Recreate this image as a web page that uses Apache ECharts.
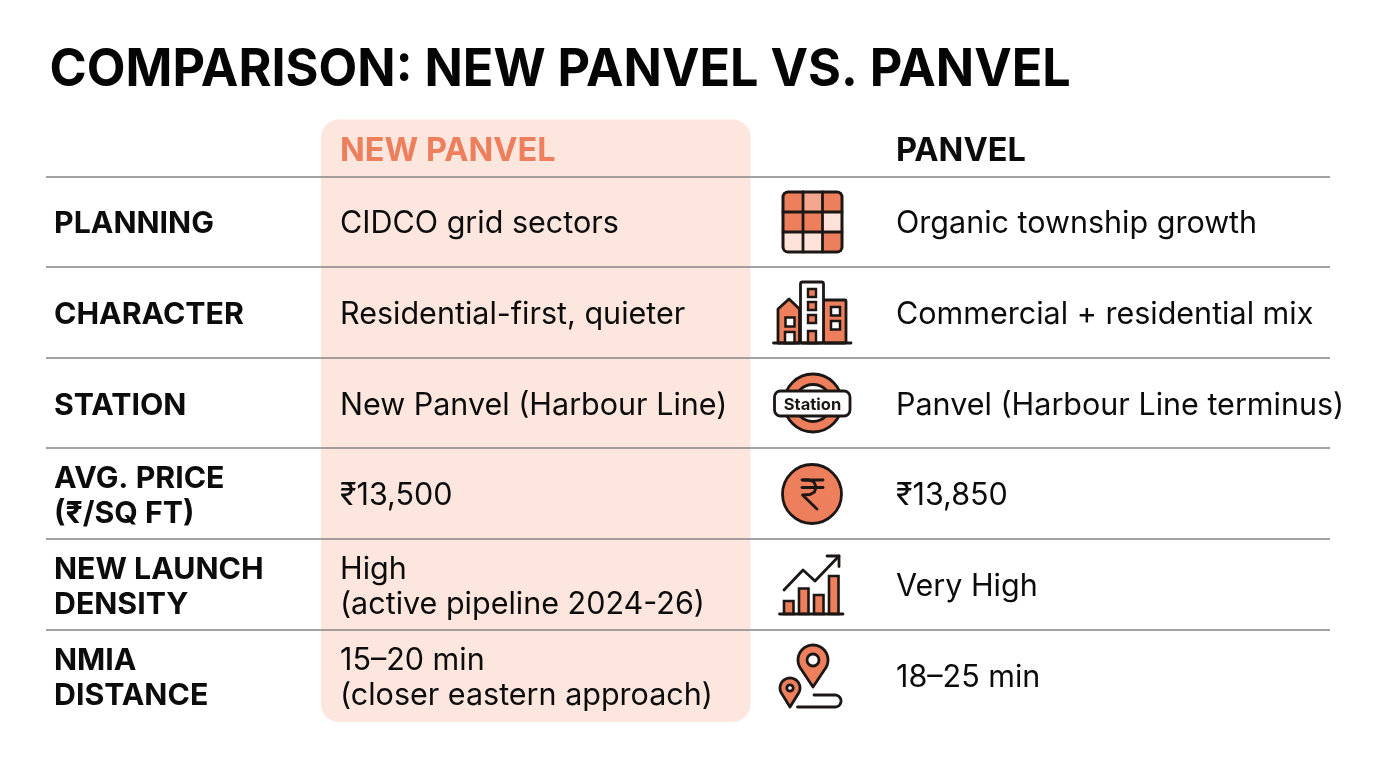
<!DOCTYPE html>
<html>
<head>
<meta charset="utf-8">
<style>html,body{margin:0;padding:0;background:#fff}#main{width:1376px;height:768px}</style>
<script src="https://cdn.jsdelivr.net/npm/echarts@6/dist/echarts.min.js"></script>
</head>
<body>
<div id="main"></div>
<script>
var chart_title = 'COMPARISON: NEW PANVEL VS. PANVEL';
var col_heads = ['NEW PANVEL', 'PANVEL'];
var row_names = ['PLANNING', 'CHARACTER', 'STATION', 'AVG. PRICE\n(₹/SQ FT)', 'NEW LAUNCH\nDENSITY', 'NMIA\nDISTANCE'];
var new_panvel = ['CIDCO grid sectors', 'Residential-first, quieter', 'New Panvel (Harbour Line)', '₹13,500', 'High\n(active pipeline 2024-26)', '15–20 min\n(closer eastern approach)'];
var panvel = ['Organic township growth', 'Commercial + residential mix', 'Panvel (Harbour Line terminus)', '₹13,850', 'Very High', '18–25 min'];
var row_mid = [224, 315, 406, 496, 587, 678];
var rule_y = [177, 267, 358, 448, 539, 630];

var INK = '#1c1715', ORANGE = '#ee7f5d', TINT = '#fde6de', PALE = '#fde3d9', FONT = 'Inter';
var els = [];

function txt(x, y, s, size, weight, color, sx) {
    els.push({type: 'text', x: x, y: y, scaleX: sx || 1, style: {
        text: s, fill: color || '#0c0c0c', font: weight + ' ' + size + 'px ' + FONT,
        textAlign: 'left', textVerticalAlign: 'middle', lineHeight: 35
    }});
}
function rect(x, y, w, h, fill, r, lw) {
    els.push({type: 'rect', shape: {x: x, y: y, width: w, height: h, r: r || 0},
        style: {fill: fill, stroke: lw ? INK : null, lineWidth: lw || 0}});
}
function poly(points, fill, lw) {
    els.push({type: fill ? 'polygon' : 'polyline', shape: {points: points},
        style: {fill: fill || null, stroke: INK, lineWidth: lw || 2.8, lineCap: 'round', lineJoin: 'round'}});
}
function circle(x, y, r, fill, lw) {
    els.push({type: 'circle', shape: {cx: x, cy: y, r: r},
        style: {fill: fill, stroke: lw ? INK : null, lineWidth: lw || 0}});
}
function arcPts(cx, cy, r, a0, a1) {
    var pts = [];
    for (var i = 0; i <= 40; i++) {
        var a = a0 + (a1 - a0) * i / 40;
        pts.push([cx + r * Math.cos(a), cy + r * Math.sin(a)]);
    }
    return pts;
}
// map pin outline, head circle plus tip
function pin(cx, cy, r, tipY, hole) {
    poly([[cx, tipY]].concat(arcPts(cx, cy, r, Math.PI * 0.80, Math.PI * 2.20)), ORANGE, 2.8);
    circle(cx, cy, hole, '#fff', 2.8);
}

// highlighted column
rect(321, 119.5, 429.5, 602.5, TINT, 18);

// table rules
rule_y.forEach(function (y) {
    els.push({type: 'line', shape: {x1: 46, y1: y, x2: 1330, y2: y}, style: {stroke: '#858585', lineWidth: 1.4}});
});

// title and headers
txt(49.5, 70, chart_title, 52, 700, '#050505', 0.968);
txt(340, 151, col_heads[0], 32.5, 700, ORANGE);
txt(896, 151, col_heads[1], 32.5, 700);

// rows
row_names.forEach(function (name, i) {
    txt(54, row_mid[i], name, 30.3, 700);
    txt(340, row_mid[i], new_panvel[i], 30.5, 400);
    txt(896, row_mid[i], panvel[i], 30.5, 400);
});

// grid icon
var cell_fills = [ORANGE, '#f4a78e', ORANGE, ORANGE, ORANGE, PALE, PALE, PALE, ORANGE];
rect(783, 192, 59, 60, '#fff', 5, 0);
cell_fills.forEach(function (c, i) {
    rect(783 + (i % 3) * 19.67, 192 + Math.floor(i / 3) * 20, 19.67, 20, c);
});
poly([[803, 192], [803, 252]]);
poly([[822.5, 192], [822.5, 252]]);
poly([[783, 212], [842, 212]]);
poly([[783, 232], [842, 232]]);
rect(783, 192, 59, 60, 'transparent', 5, 3);

// buildings icon
poly([[778, 343], [778, 309], [789, 299], [799.5, 309], [799.5, 343]], ORANGE);
rect(785.5, 317.5, 9, 9, '#fff', 0, 2.5);
rect(785, 332, 9.5, 11, '#fff', 0, 2.5);
rect(823, 300, 23, 43, ORANGE, 1, 2.8);
rect(831, 307, 9, 8.5, '#fff', 0, 2.5);
rect(831, 321, 9, 8.5, '#fff', 0, 2.5);
rect(800.5, 282, 23, 61, '#fff', 2, 2.8);
[289, 302, 315].forEach(function (y) { rect(808, y, 8, 8, ORANGE, 0, 2.4); });
rect(808, 331, 8, 12, ORANGE, 0, 2.4);
poly([[773.5, 343], [851, 343]]);

// station icon
circle(813, 403, 29, ORANGE, 2.8);
circle(813, 403, 18.5, '#fff', 2.8);
rect(774.5, 391, 75.5, 25, '#fff', 6, 2.8);
els.push({type: 'text', x: 812.5, y: 405, style: {text: 'Station', fill: INK, font: '700 16.5px ' + FONT, textAlign: 'center', textVerticalAlign: 'middle'}});

// rupee icon
circle(812, 494, 29.5, ORANGE, 2.8);
poly([[802, 480], [823, 480]]);
poly([[802, 487.5], [823, 487.5]]);
poly([[803, 480], [809, 480], [814, 482], [816, 487], [814.5, 492], [810, 494.5], [802.5, 495], [817, 509]]);

// bar chart icon
[[784, 601], [799, 588.5], [814, 595], [829, 576]].forEach(function (b) {
    rect(b[0], b[1], 9.5, 614 - b[1], ORANGE, 0, 2.6);
});
poly([[779.5, 614], [843, 614]]);
poly([[784, 590], [803, 570], [815, 581], [839, 556]]);
poly([[827, 556], [839, 556], [839, 566.5]]);

// route icon
pin(813, 660, 15, 687, 6);
pin(790, 688, 10, 707, 3.2);
poly([[814, 695]].concat(arcPts(835, 701, 6, -Math.PI / 2, Math.PI / 2), [[797.5, 707]]));

var chart = echarts.init(document.getElementById('main'), null, {renderer: 'canvas'});
chart.setOption({
    animation: false,
    backgroundColor: '#ffffff',
    graphic: {elements: els}
});
</script>
</body>
</html>
